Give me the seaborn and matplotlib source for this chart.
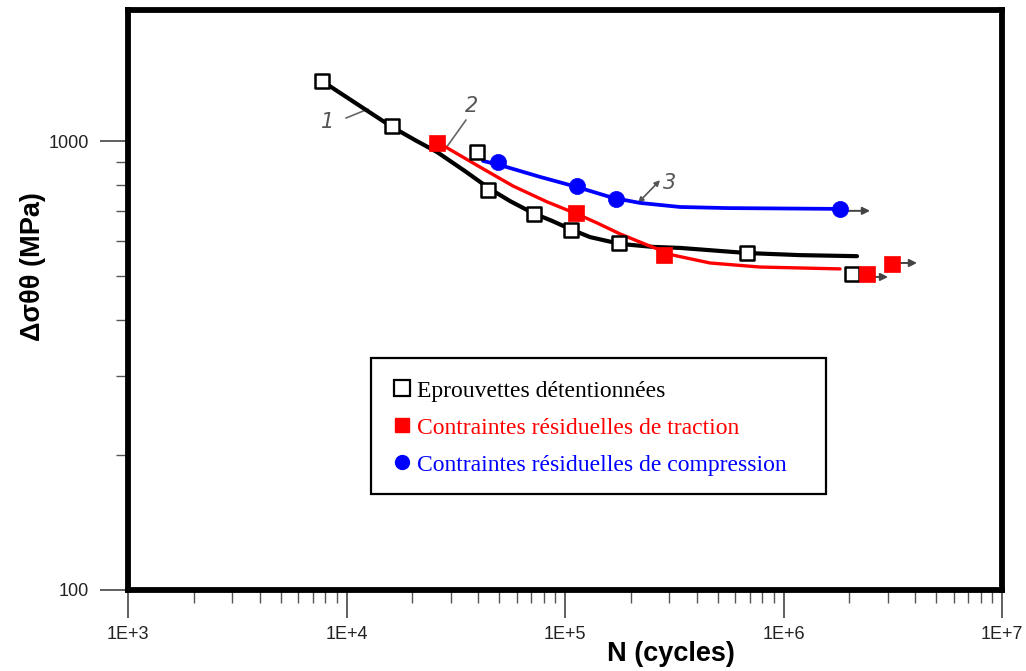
import matplotlib
matplotlib.use("Agg")
import matplotlib.pyplot as plt
import seaborn as sns
import pandas as pd
from matplotlib.lines import Line2D
from matplotlib.patches import Rectangle
from matplotlib.ticker import FixedLocator, FixedFormatter, LogLocator, NullFormatter

# ---------------- data ----------------
# Eprouvettes détentionnées (open squares) and curve 1
black_pts_N = [7730, 16150, 39570, 44420, 72140, 106500, 176700, 680700, 2058000]
black_pts_S = [1360, 1080, 945, 778, 688, 634, 593, 563, 506]
black_curve_N = [7727, 11170, 16150, 20580, 25960, 34860, 45370, 56010, 71380, 87200,
                 105400, 130150, 178550, 252800, 336000, 680700, 1190000, 2170000]
black_curve_S = [1360, 1209, 1075, 1005, 945, 857, 782, 735, 691, 664,
                 637, 611, 590, 581, 578, 563, 557, 554]

# Contraintes résiduelles de traction (red squares) and curve 2
red_pts_N = [25960, 112300, 283900, 2411000, 3138000]
red_pts_S = [990, 691, 557, 506, 532]
red_curve_N = [25960, 40830, 57810, 82750, 113400, 140100, 178550, 237300, 312200,
               461000, 780600, 1814000]
red_curve_S = [995, 875, 794, 732, 688, 657, 621, 587, 557, 535, 524, 519]

# Contraintes résiduelles de compression (blue circles) and curve 3
blue_pts_N = [49370, 113400, 171200, 1814000]
blue_pts_S = [898, 794, 743, 706]
blue_curve_N = [42130, 50400, 76840, 113400, 165900, 220400, 336000, 551300, 1814000]
blue_curve_S = [903, 884, 832, 790, 747, 728, 713, 709, 706]

# run-out arrows (start N, end N, S)
arrow_start_N = [1953000, 2596000, 3414000]
arrow_end_N = [2489000, 3009000, 4083000]
arrow_S = [699, 498, 535]

x_ticks = [1e3, 1e4, 1e5, 1e6, 1e7]
x_tick_labels = ["1E+3", "1E+4", "1E+5", "1E+6", "1E+7"]
y_ticks = [100, 1000]
y_tick_labels = ["100", "1000"]

legend_labels = ["Eprouvettes détentionnées",
                 "Contraintes résiduelles de traction",
                 "Contraintes résiduelles de compression"]
x_label = "N (cycles)"
y_label = "Δσθθ (MPa)"

# ---------------- figure ----------------
sns.set_theme(style="white")
plt.rcParams["font.family"] = ["Liberation Sans", "DejaVu Sans"]

fig = plt.figure(figsize=(10.26, 6.71), dpi=100)
ax = fig.add_axes([128 / 1026, 81 / 671, (1002 - 128) / 1026, (590 - 10) / 671])
ax.set_xscale("log")
ax.set_yscale("log")

df_bc = pd.DataFrame({"N": black_curve_N, "S": black_curve_S})
df_rc = pd.DataFrame({"N": red_curve_N, "S": red_curve_S})
df_uc = pd.DataFrame({"N": blue_curve_N, "S": blue_curve_S})
sns.lineplot(data=df_bc, x="N", y="S", sort=False, color="black", lw=3.0, ax=ax, zorder=3,
             solid_joinstyle="round", solid_capstyle="round")
sns.lineplot(data=df_rc, x="N", y="S", sort=False, color="#ff0000", lw=2.4, ax=ax, zorder=4,
             solid_joinstyle="round", solid_capstyle="round")
sns.lineplot(data=df_uc, x="N", y="S", sort=False, color="#0000ff", lw=2.7, ax=ax, zorder=4,
             solid_joinstyle="round", solid_capstyle="round")

sns.scatterplot(x=black_pts_N, y=black_pts_S, marker="s", s=110, facecolor="white",
                edgecolor="black", linewidth=1.8, ax=ax, zorder=6)
sns.scatterplot(x=red_pts_N, y=red_pts_S, marker="s", s=125, color="#ff0000",
                edgecolor="#ff0000", linewidth=0.5, ax=ax, zorder=6)
sns.scatterplot(x=blue_pts_N, y=blue_pts_S, marker="o", s=135, color="#0000ff",
                edgecolor="#0000ff", linewidth=0.5, ax=ax, zorder=6)

for x0, x1, yv in zip(arrow_start_N, arrow_end_N, arrow_S):
    ax.annotate("", xy=(x1, yv), xytext=(x0, yv),
                arrowprops=dict(arrowstyle="-|>", color="#444444", lw=1.4,
                                mutation_scale=11, shrinkA=0, shrinkB=0), zorder=5)

# curve labels 1, 2, 3 with leader lines
hand = dict(color="#555555", fontsize=15, family="DejaVu Sans", fontstyle="italic")
ax.text(8228, 1102, "1", ha="center", va="center", **hand)
ax.plot([9947, 12540], [1125, 1178], color="#666666", lw=1.2)
ax.text(37530, 1197, "2", ha="center", va="center", **hand)
ax.plot([35240, 28540], [1114, 965], color="#666666", lw=1.2)
ax.text(302400, 806, "3", ha="center", va="center", **hand)
ax.annotate("", xy=(215900, 728), xytext=(272200, 818),
            arrowprops=dict(arrowstyle="<|-|>", color="#555555", lw=1.2,
                            mutation_scale=8, shrinkA=0, shrinkB=0))

ax.set_xlim(1e3, 1e7)
ax.set_ylim(100, 1958)

ax.xaxis.set_major_locator(FixedLocator(x_ticks))
ax.xaxis.set_major_formatter(FixedFormatter(x_tick_labels))
ax.xaxis.set_minor_locator(LogLocator(base=10, subs=range(2, 10), numticks=20))
ax.xaxis.set_minor_formatter(NullFormatter())
ax.yaxis.set_major_locator(FixedLocator(y_ticks))
ax.yaxis.set_major_formatter(FixedFormatter(y_tick_labels))
ax.yaxis.set_minor_locator(LogLocator(base=10, subs=range(2, 10), numticks=20))
ax.yaxis.set_minor_formatter(NullFormatter())

ax.tick_params(axis="both", which="major", direction="out", length=20, width=1.2,
               color="#444444", labelsize=13, labelcolor="#222222", pad=8,
               bottom=True, left=True)
ax.tick_params(axis="both", which="minor", direction="out", length=9, width=1.0,
               color="#555555", bottom=True, left=True)
ax.tick_params(axis="x", which="major", pad=6)

for sp in ax.spines.values():
    sp.set_linewidth(4.2)
    sp.set_color("black")
    sp.set_visible(True)
ax.set_xlabel("")
ax.set_ylabel("")
ax.grid(False)

# axis labels
lab = dict(family=["Liberation Sans", "DejaVu Sans"],
           fontweight="bold", fontsize=19.5, color="black")
fig.text(671 / 1026, 1 - 654 / 671, x_label, ha="center", va="center", **lab)
fig.text(33 / 1026, 1 - 267 / 671, y_label, ha="center", va="center", rotation=90, **lab)

# legend
handles = [
    Line2D([], [], marker="s", linestyle="none", markersize=11, markerfacecolor="white",
           markeredgecolor="black", markeredgewidth=1.6),
    Line2D([], [], marker="s", linestyle="none", markersize=10, markerfacecolor="#ff0000",
           markeredgecolor="#ff0000"),
    Line2D([], [], marker="o", linestyle="none", markersize=10, markerfacecolor="#0000ff",
           markeredgecolor="#0000ff"),
]
leg = fig.legend(handles, legend_labels, loc="upper left",
                 bbox_to_anchor=(395 / 1026, 1 - 380 / 671), bbox_transform=fig.transFigure,
                 frameon=False, prop={"family": "Liberation Serif", "size": 17},
                 handlelength=0.6, handletextpad=0.35, labelspacing=0.66,
                 borderpad=0, borderaxespad=0)
for t, c in zip(leg.get_texts(), ["black", "#ff0000", "#0000ff"]):
    t.set_color(c)
fig.patches.append(Rectangle((371 / 1026, 1 - 494 / 671), (826 - 371) / 1026, (494 - 358) / 671,
                             transform=fig.transFigure, fill=False, edgecolor="black", lw=1.6,
                             zorder=10))

fig.savefig("out.png", dpi=100, facecolor="white")
